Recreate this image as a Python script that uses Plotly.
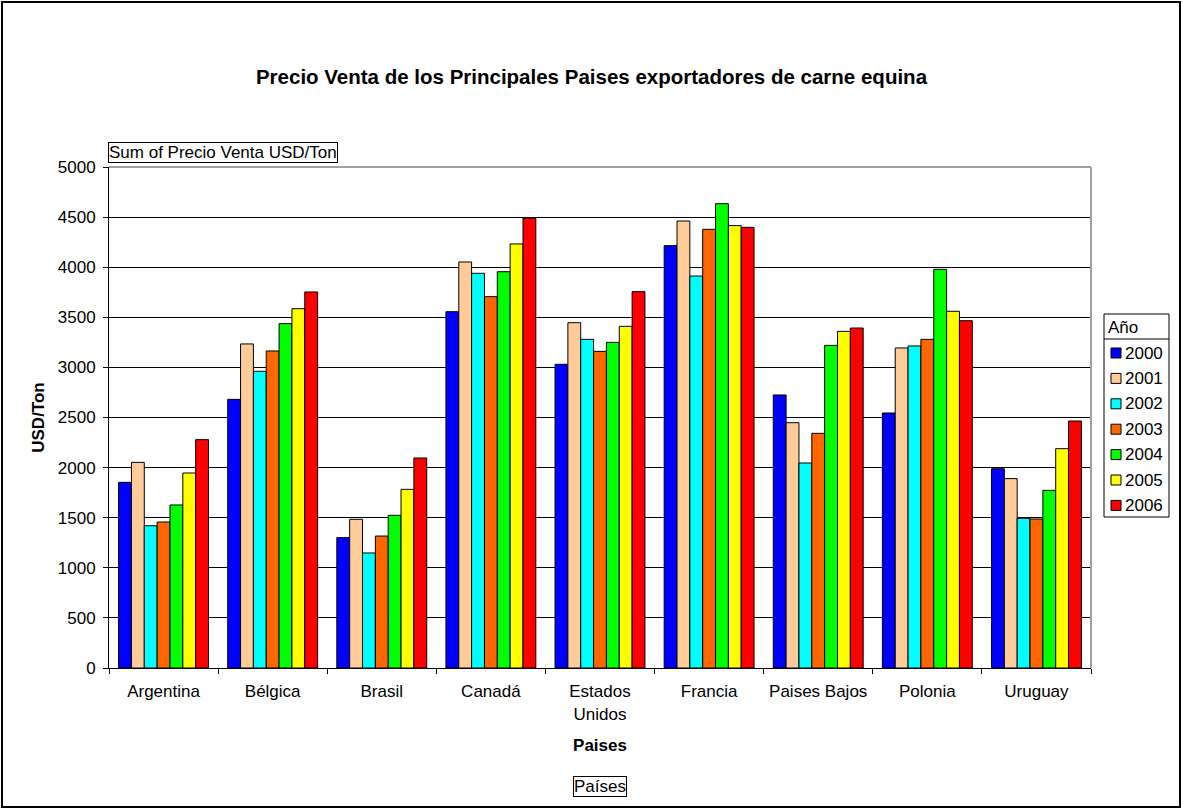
import plotly.graph_objects as go

# datos
paises = ['Argentina', 'Bélgica', 'Brasil', 'Canadá', 'Estados<br>Unidos',
          'Francia', 'Paises Bajos', 'Polonia', 'Uruguay']
anios = ['2000', '2001', '2002', '2003', '2004', '2005', '2006']

v2000 = [1853, 2681, 1301, 3556, 3031, 4215, 2725, 2545, 1989]
v2001 = [2052, 3234, 1484, 4052, 3446, 4461, 2448, 3194, 1890]
v2002 = [1420, 2961, 1148, 3939, 3280, 3912, 2046, 3214, 1494]
v2003 = [1457, 3164, 1317, 3706, 3160, 4378, 2342, 3280, 1487]
v2004 = [1627, 3437, 1524, 3955, 3250, 4634, 3220, 3979, 1773]
v2005 = [1946, 3586, 1783, 4232, 3410, 4415, 3360, 3560, 2189]
v2006 = [2279, 3753, 2096, 4491, 3756, 4398, 3393, 3466, 2465]

series = [v2000, v2001, v2002, v2003, v2004, v2005, v2006]
colores = ['#0000FF', '#FFCC99', '#00FFFF', '#FF6600', '#00FF00', '#FFFF00', '#FF0000']

FUENTE = 'Liberation Sans, Arial, sans-serif'

# area del grafico en pixeles
W, H = 1183, 810
L, R, T, B = 109, 1091, 167, 668


def px_x(p):
    return (p - L) / (R - L)


def px_y(p):
    return (B - p) / (B - T)


fig = go.Figure()
for anio, vals, col in zip(anios, series, colores):
    fig.add_trace(go.Bar(
        x=paises, y=vals, name=anio,
        marker=dict(color=col, line=dict(color='#000000', width=1)),
    ))

fig.update_layout(
    width=W, height=H,
    margin=dict(l=L, r=W - R, t=T, b=H - B, autoexpand=False),
    paper_bgcolor='white', plot_bgcolor='white',
    font=dict(family=FUENTE, size=17, color='#000000'),
    barmode='group', bargap=0.176, bargroupgap=0,
    title=dict(text='<b>Precio Venta de los Principales Paises exportadores de carne equina</b>',
               x=0.5, xanchor='center', y=1 - 77 / H, yanchor='middle',
               font=dict(size=20.5)),
    showlegend=False,
    xaxis=dict(
        showline=True, linecolor='#000000', linewidth=1,
        ticks='outside', tickson='boundaries', ticklen=5, tickcolor='#000000',
        ticklabelstandoff=8,
        showgrid=False,
        title=dict(text='<b>Paises</b>', font=dict(size=17), standoff=16),
    ),
    yaxis=dict(
        range=[0, 5000], dtick=500,
        showline=True, linecolor='#000000', linewidth=1,
        ticks='outside', ticklen=5, tickcolor='#000000',
        ticklabelstandoff=4,
        showgrid=True, gridcolor='#000000', gridwidth=1,
        zeroline=False,
        title=dict(text='<b>USD/Ton</b>', font=dict(size=17), standoff=8),
    ),
)

# marco gris del area de trazado (arriba y derecha)
fig.add_shape(type='line', xref='paper', yref='paper', x0=0, x1=1, y0=1, y1=1,
              line=dict(color='#A0A0A0', width=2), layer='above')
fig.add_shape(type='line', xref='paper', yref='paper', x0=1, x1=1, y0=0, y1=1,
              line=dict(color='#A0A0A0', width=2), layer='above')

# borde exterior
fig.add_shape(type='rect', xref='paper', yref='paper',
              x0=px_x(2), x1=px_x(1180), y0=px_y(807), y1=px_y(2),
              line=dict(color='#000000', width=2))

# leyenda (caja con titulo "Año")
ley_x0, ley_x1, ley_y0, ley_y1, ley_sep = 1104, 1169, 314, 517, 339
fig.add_shape(type='rect', xref='paper', yref='paper',
              x0=px_x(ley_x0), x1=px_x(ley_x1), y0=px_y(ley_y1), y1=px_y(ley_y0),
              line=dict(color='#000000', width=1), fillcolor='white')
fig.add_shape(type='line', xref='paper', yref='paper',
              x0=px_x(ley_x0), x1=px_x(ley_x1), y0=px_y(ley_sep), y1=px_y(ley_sep),
              line=dict(color='#000000', width=1))
fig.add_annotation(text='Año', xref='paper', yref='paper',
                   x=px_x(1106), y=px_y(327), xanchor='left', yanchor='middle',
                   showarrow=False, font=dict(size=17))
for i, (anio, col) in enumerate(zip(anios, colores)):
    cy = 353 + i * 25.4
    fig.add_shape(type='rect', xref='paper', yref='paper',
                  x0=px_x(1111), x1=px_x(1121), y0=px_y(cy + 5), y1=px_y(cy - 5),
                  line=dict(color='#000000', width=1), fillcolor=col)
    fig.add_annotation(text=anio, xref='paper', yref='paper',
                       x=px_x(1123), y=px_y(cy), xanchor='left', yanchor='middle',
                       showarrow=False, font=dict(size=17))

# etiquetas de campo
fig.add_annotation(text='Sum of Precio Venta USD/Ton', xref='paper', yref='paper',
                   x=px_x(108), y=px_y(142), xanchor='left', yanchor='top',
                   showarrow=False, font=dict(size=17),
                   bordercolor='#000000', borderwidth=1, borderpad=0)
fig.add_annotation(text='Países', xref='paper', yref='paper',
                   x=px_x(600), y=px_y(776),
                   xanchor='center', yanchor='top',
                   showarrow=False, font=dict(size=17),
                   bordercolor='#000000', borderwidth=1, borderpad=0)

fig.write_html('out.html', config={'displayModeBar': False},
               post_script="document.body.style.margin='0';")
